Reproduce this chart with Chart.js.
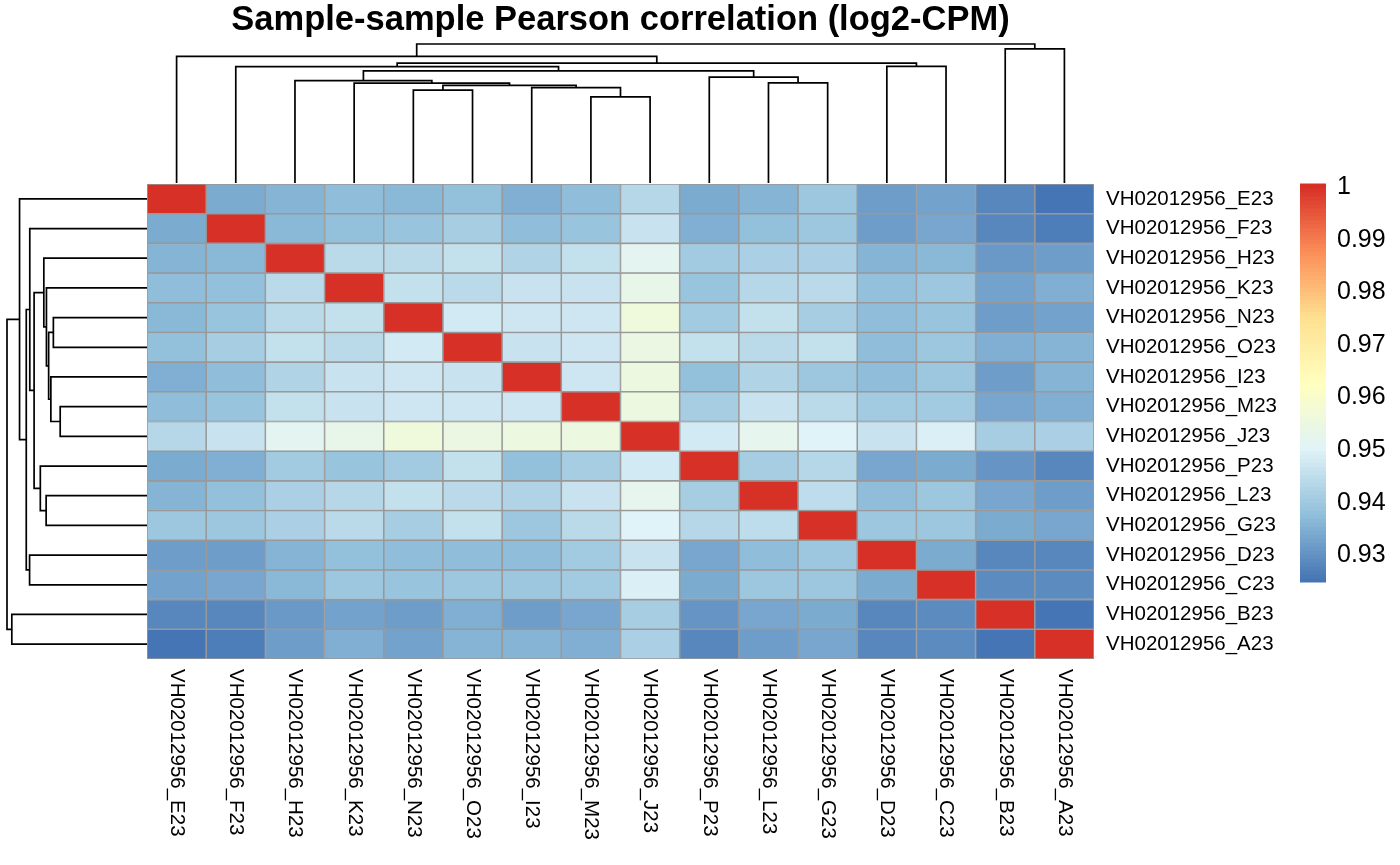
<!DOCTYPE html>
<html><head><meta charset="utf-8">
<script src="https://cdn.jsdelivr.net/npm/chart.js@4.4.1/dist/chart.umd.min.js"></script>
<style>html,body{margin:0;padding:0;background:#fff}</style>
</head><body>
<canvas id="c" width="1400" height="865"></canvas>
<script>
// ---------- DATA ----------
const samples = ["VH02012956_E23","VH02012956_F23","VH02012956_H23","VH02012956_K23",
  "VH02012956_N23","VH02012956_O23","VH02012956_I23","VH02012956_M23","VH02012956_J23",
  "VH02012956_P23","VH02012956_L23","VH02012956_G23","VH02012956_D23","VH02012956_C23",
  "VH02012956_B23","VH02012956_A23"];

// Pearson correlation rows (same column order as samples)
const rowE = [1, .9342, .9357, .9370, .9360, .9375, .9345, .9370, .9427, .9340, .9355, .9389, .9319, .9324, .9280, .9244];
const rowF = [.9342, 1, .9360, .9376, .9381, .9403, .9365, .9384, .9462, .9347, .9373, .9394, .9316, .9330, .9277, .9265];
const rowH = [.9357, .9360, 1, .9434, .9439, .9450, .9419, .9450, .9515, .9398, .9412, .9415, .9352, .9364, .9310, .9318];
const rowK = [.9370, .9376, .9434, 1, .9450, .9440, .9459, .9458, .9530, .9385, .9426, .9433, .9377, .9394, .9321, .9344];
const rowN = [.9360, .9381, .9439, .9450, 1, .9478, .9464, .9464, .9555, .9402, .9450, .9407, .9372, .9385, .9318, .9326];
const rowO = [.9375, .9403, .9450, .9440, .9478, 1, .9459, .9464, .9540, .9450, .9440, .9452, .9372, .9388, .9345, .9352];
const rowI = [.9345, .9365, .9419, .9459, .9464, .9459, 1, .9466, .9550, .9376, .9424, .9393, .9372, .9395, .9318, .9355];
const rowM = [.9370, .9384, .9450, .9458, .9464, .9464, .9466, 1, .9553, .9404, .9460, .9434, .9397, .9401, .9334, .9346];
const rowJ = [.9427, .9462, .9515, .9530, .9555, .9540, .9550, .9553, 1, .9478, .9520, .9495, .9462, .9488, .9403, .9414];
const rowP = [.9340, .9347, .9398, .9385, .9402, .9450, .9376, .9404, .9478, 1, .9410, .9427, .9330, .9335, .9299, .9280];
const rowL = [.9355, .9373, .9412, .9426, .9450, .9440, .9424, .9460, .9520, .9410, 1, .9443, .9365, .9389, .9334, .9314];
const rowG = [.9389, .9394, .9415, .9433, .9407, .9452, .9393, .9434, .9495, .9427, .9443, 1, .9389, .9389, .9342, .9334];
const rowD = [.9319, .9316, .9352, .9377, .9372, .9372, .9372, .9397, .9462, .9330, .9365, .9389, 1, .9342, .9280, .9280];
const rowC = [.9324, .9330, .9364, .9394, .9385, .9388, .9395, .9401, .9488, .9335, .9389, .9389, .9342, 1, .9285, .9285];
const rowB = [.9280, .9277, .9310, .9321, .9318, .9345, .9318, .9334, .9403, .9299, .9334, .9342, .9280, .9285, 1, .9244];
const rowA = [.9244, .9265, .9318, .9344, .9326, .9352, .9355, .9346, .9414, .9280, .9314, .9334, .9280, .9285, .9244, 1];

// hierarchical clustering merges (hclust style: negative = leaf -(position+1), positive = earlier merge, 1-based)
const mergeA = [-8, -5, -7, 2, -4, -11, -3, -10, 7, -2, -13, 10, -1, -15, 13];
const mergeB = [-9, -6, 1, 3, 4, -12, 5, 6, 8, 9, -14, 11, 12, -16, 14];
const mergeHeight = [86.5, 93.3, 95.8, 98.0, 100.2, 100.5, 102.8, 106.3, 112.5, 116.8, 117.0, 120.3, 127.0, 134.7, 139.5];

// colour legend ticks
const legendTicks = [0.93, 0.94, 0.95, 0.96, 0.97, 0.98, 0.99, 1];
const legendLabels = ["0.93", "0.94", "0.95", "0.96", "0.97", "0.98", "0.99", "1"];

const paletteStops = ["#4575B4", "#91BFDB", "#E0F3F8", "#FFFFBF", "#FEE090", "#FC8D59", "#D73027"];

// ---------- helpers ----------
const matrix = [rowE, rowF, rowH, rowK, rowN, rowO, rowI, rowM, rowJ, rowP, rowL, rowG, rowD, rowC, rowB, rowA];
const allVals = matrix.flat();
const vMin = Math.min(...allVals), vMax = Math.max(...allVals);
function hex2rgb(h){return [parseInt(h.slice(1,3),16),parseInt(h.slice(3,5),16),parseInt(h.slice(5,7),16)];}
function ramp(n){
  const s = paletteStops.map(hex2rgb), out = [];
  for (let k = 0; k < n; k++) {
    const t = k/(n-1)*(s.length-1); const i = Math.min(Math.floor(t), s.length-2); const f = t - i;
    const c = s[i].map((v, q) => Math.round(v + (s[i+1][q]-v)*f));
    out.push(`rgb(${c[0]},${c[1]},${c[2]})`);
  }
  return out;
}
const palette = ramp(100);
function colorOf(v){
  let k = Math.floor((v - vMin)/(vMax - vMin)*100);
  k = Math.max(0, Math.min(99, k));
  return palette[k];
}

const FONT = "'Liberation Sans', Arial, Helvetica, sans-serif";

const datasets = samples.map((name, r) => ({
  label: name,
  data: samples.map(() => [r, r + 1]),
  backgroundColor: (ctx) => colorOf(matrix[r][ctx.dataIndex]),
  borderColor: "#999999",
  borderWidth: 1.1,
  borderSkipped: false,
  barPercentage: 1,
  categoryPercentage: 1,
  xAxisID: "x",
  yAxisID: "y"
}));

// ---------- extras plugin: dendrograms, column labels, colour legend ----------
const extras = {
  id: "extras",
  afterDraw(chart) {
    const ctx = chart.ctx, ca = chart.chartArea;
    const xs = chart.scales.x, ys = chart.scales.yLab;
    const rootH = Math.max(...mergeHeight);
    const n = mergeHeight.length;

    function nodePos(scale) {
      const pos = [];
      const p = (c) => c < 0 ? scale.getPixelForValue(-c - 1) : pos[c - 1];
      for (let i = 0; i < n; i++) pos.push((p(mergeA[i]) + p(mergeB[i])) / 2);
      return {pos, p};
    }
    const hOf = (c) => c < 0 ? 0 : mergeHeight[c - 1];

    ctx.save();
    ctx.strokeStyle = "#000"; ctx.lineWidth = 1.7; ctx.lineJoin = "miter"; ctx.lineCap = "butt";
    // top dendrogram
    const top = nodePos(xs), baseT = ca.top - 1, sizeT = 139;
    const yT = (h) => baseT - h / rootH * sizeT;
    for (let i = 0; i < n; i++) {
      const xa = top.p(mergeA[i]), xb = top.p(mergeB[i]);
      ctx.beginPath();
      ctx.moveTo(xa, yT(hOf(mergeA[i]))); ctx.lineTo(xa, yT(mergeHeight[i]));
      ctx.lineTo(xb, yT(mergeHeight[i])); ctx.lineTo(xb, yT(hOf(mergeB[i])));
      ctx.stroke();
    }
    // left dendrogram
    const left = nodePos(ys), baseL = ca.left, sizeL = 140;
    const xL = (h) => baseL - h / rootH * sizeL;
    for (let i = 0; i < n; i++) {
      const ya = left.p(mergeA[i]), yb = left.p(mergeB[i]);
      ctx.beginPath();
      ctx.moveTo(xL(hOf(mergeA[i])), ya); ctx.lineTo(xL(mergeHeight[i]), ya);
      ctx.lineTo(xL(mergeHeight[i]), yb); ctx.lineTo(xL(hOf(mergeB[i])), yb);
      ctx.stroke();
    }
    // column labels (rotated clockwise)
    ctx.fillStyle = "#000";
    ctx.font = `20.5px ${FONT}`;
    ctx.textAlign = "left"; ctx.textBaseline = "middle";
    samples.forEach((s, i) => {
      ctx.save();
      ctx.translate(xs.getPixelForValue(i), ca.bottom + 10);
      ctx.rotate(Math.PI / 2);
      ctx.fillText(s, 0, 0);
      ctx.restore();
    });
    // colour legend
    const lx = 1300, lw = 26, lt = ca.top, lb = 582;
    const lh = lb - lt;
    for (let k = 0; k < 100; k++) {
      ctx.fillStyle = palette[k];
      const y1 = lb - (k + 1) / 100 * lh, y0 = lb - k / 100 * lh;
      ctx.fillRect(lx, y1 - 0.5, lw, y0 - y1 + 1);
    }
    ctx.fillStyle = "#000";
    ctx.font = `25px ${FONT}`;
    ctx.textAlign = "left"; ctx.textBaseline = "middle";
    legendTicks.forEach((v, i) => {
      const y = lb - (v - vMin) / (vMax - vMin) * lh;
      ctx.fillText(legendLabels[i], lx + 37, y + 3);
    });
    ctx.restore();
  }
};

new Chart(document.getElementById("c"), {
  type: "bar",
  data: { labels: samples, datasets },
  options: {
    responsive: false,
    animation: false,
    devicePixelRatio: 1,
    layout: { padding: { left: 147, right: 0, top: 0, bottom: 206 } },
    plugins: {
      legend: { display: false },
      tooltip: { enabled: false },
      title: {
        display: true,
        text: "Sample-sample Pearson correlation (log2-CPM)",
        color: "#000",
        fullSize: false,
        font: { family: FONT, size: 34.5, weight: "bold", lineHeight: 1.2 },
        padding: { top: 0, bottom: 142.6 }
      }
    },
    scales: {
      x: { type: "category", labels: samples, offset: true, stacked: true, display: false },
      y: { type: "linear", min: 0, max: 16, reverse: true, stacked: false, display: false },
      yLab: {
        type: "category", labels: samples, position: "right", offset: true,
        grid: { display: false, drawTicks: false }, border: { display: false },
        ticks: { color: "#000", font: { family: FONT, size: 20.5 }, padding: 12, autoSkip: false },
        afterFit(s) { s.width = 306; }
      }
    }
  },
  plugins: [extras]
});
</script>
</body></html>
